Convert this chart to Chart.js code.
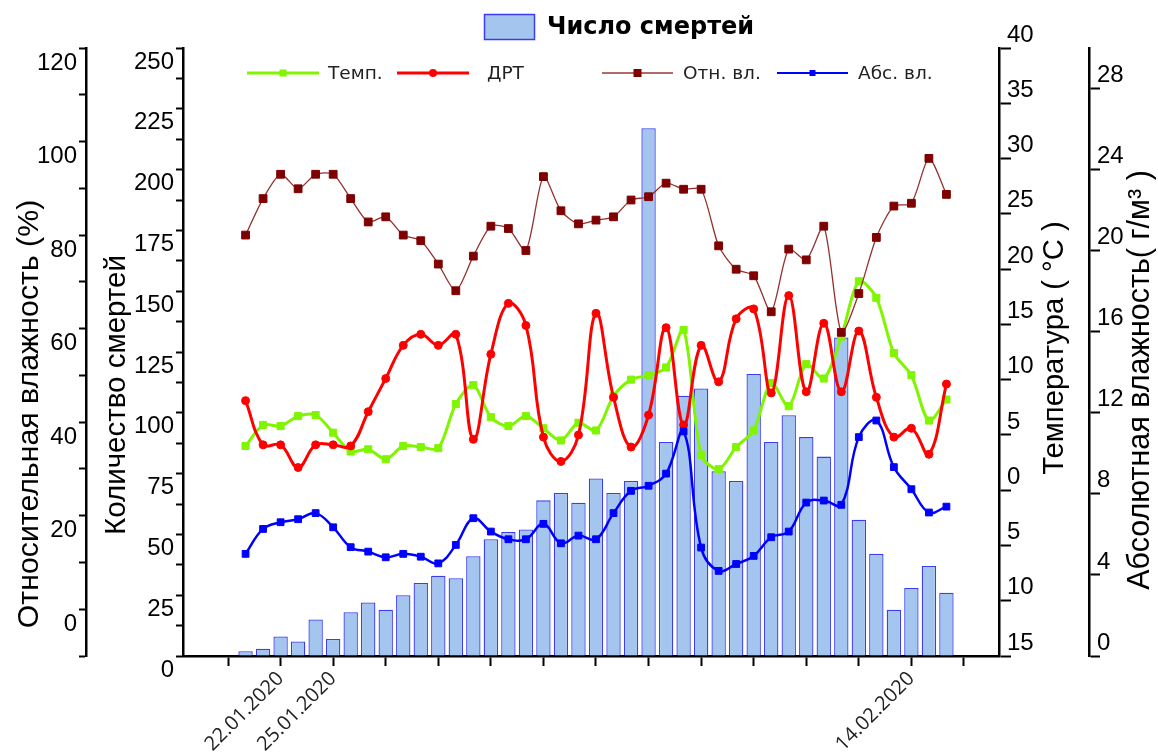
<!DOCTYPE html>
<html><head><meta charset="utf-8">
<script src="https://cdn.jsdelivr.net/npm/chart.js@4.4.1/dist/chart.umd.min.js"></script>
<style>html,body{margin:0;padding:0;background:#fff;}#wrap{width:1158px;height:753px;position:relative;}</style>
</head><body><div id="wrap"><canvas id="c" width="1158" height="753"></canvas></div>
<script>
// ---- data ----
const days = [0,1,2,3,4,5,6,7,8,9,10,11,12,13,14,15,16,17,18,19,20,21,22,23,24,25,26,27,28,29,30,31,32,33,34,35,36,37,38,39,40];
const deaths = [2,3,8,6,15,7,18,22,19,25,30,33,32,41,48,51,52,64,67,63,73,67,72,217,88,107,110,76,72,116,88,99,90,82,131,56,42,19,28,37,26];
const temp = [4.0,5.9,5.8,6.7,6.8,5.2,3.5,3.7,2.8,4.0,3.9,3.8,7.8,9.5,6.6,5.8,6.7,5.6,4.5,6.1,5.4,8.5,10.0,10.4,11.1,14.5,3.2,1.9,3.9,5.4,9.7,7.6,11.4,10.1,13.9,18.9,17.4,12.4,10.4,6.3,8.2];
const dtr = [8.1,4.1,4.1,2.05,4.1,4.1,4.0,7.1,10.1,13.1,14.1,13.1,14.1,4.6,12.3,16.9,14.9,4.8,2.6,5.0,16.0,8.4,3.9,6.8,14.7,5.9,13.1,9.8,15.5,16.4,8.8,17.6,8.9,15.1,8.9,14.4,8.4,4.8,5.6,3.25,9.6];
const relHum = [80.0,87.8,93.0,89.9,93.0,93.0,87.8,82.8,83.9,80.0,78.8,73.8,68.1,75.5,81.9,81.4,76.7,92.5,85.2,82.4,83.2,83.9,87.5,88.2,91.1,89.8,89.8,77.7,72.7,71.3,63.6,77.0,74.7,81.9,59.2,67.5,79.5,86.2,86.8,96.4,88.7];
const absHum = [5.04,6.27,6.6,6.75,7.05,6.35,5.37,5.15,4.87,5.04,4.9,4.57,5.48,6.8,6.14,5.76,5.76,6.52,5.56,5.94,5.76,7.05,8.15,8.4,9.0,11.08,5.35,4.2,4.54,4.94,5.86,6.14,7.57,7.67,7.46,10.8,11.62,9.32,8.23,7.08,7.37];

// ---- ticks ----
const xTickPos = [-1,2,5,8,11,14,17,20,23,26,29,32,35,38,41];
const xTickText = ['','22.01.2020','25.01.2020','','','','','','','','','','','14.02.2020',''];
const deathTicks = [0,12.5,25,37.5,50,62.5,75,87.5,100,112.5,125,137.5,150,162.5,175,187.5,200,212.5,225,237.5,250];
const rhTicks = [-10,0,10,20,30,40,50,60,70,80,90,100,110,120];
const tempTicks = [-15,-10,-5,0,5,10,15,20,25,30,35,40];
const absTicks = [0,4,8,12,16,20,24,28];

// ---- styles ----
const barFill = '#A4C6EE', barBorder = '#3C3CF5';
const cGreen = '#80F500', cRed = '#FF0000', cMaroon = '#7F0000', cMaroonLine = '#943030', cBlue = '#0000FF';
const tickFont = {family: '"Liberation Sans", Arial, sans-serif', size: 24};

function setTicks(arr){ return s => { s.ticks = arr.map(v => ({value: v})); }; }
function yAxis(pos, weight, width, min, max, ticksArr, cb, labelOffset, tickLen, pad){
  return {
    type: 'linear', position: pos, weight: weight, min: min, max: max,
    afterFit: s => { s.width = width; },
    afterBuildTicks: setTicks(ticksArr),
    ticks: {autoSkip: false, font: tickFont, color: '#000', padding: pad, labelOffset: labelOffset, callback: cb},
    grid: {drawOnChartArea: false, drawTicks: true, tickLength: tickLen, tickWidth: 2, tickColor: '#000'},
    border: {display: true, color: '#000', width: 2.5}
  };
}

const overlay = {
  id: 'overlay',
  afterDraw(chart){
    const ctx = chart.ctx;
    const ds = chart.data.datasets;
    ctx.save();
    // top legend (bars)
    ctx.fillStyle = barFill; ctx.fillRect(484, 14, 51, 26);
    ctx.strokeStyle = barBorder; ctx.lineWidth = 1.5; ctx.strokeRect(484.5, 14.5, 50, 25);
    ctx.fillStyle = '#000'; ctx.textAlign = 'left'; ctx.textBaseline = 'middle';
    ctx.font = 'bold 24px "DejaVu Sans", sans-serif';
    ctx.fillText(ds[0].label, 547, 28);
    // line legend row
    const items = [
      {d: ds[1], x0: 247, x1: 319, tx: 328, lc: cGreen, lw: 3, mk: 'rect', ms: 7},
      {d: ds[2], x0: 397, x1: 469, tx: 487, lc: cRed, lw: 3, mk: 'circle', ms: 8},
      {d: ds[3], x0: 602, x1: 673, tx: 683, lc: '#B06A6A', lw: 2, mk: 'rect', ms: 8},
      {d: ds[4], x0: 777, x1: 848, tx: 858, lc: cBlue, lw: 2, mk: 'rect', ms: 6}
    ];
    const ly = 73;
    ctx.font = '18.5px "DejaVu Sans", sans-serif';
    items.forEach(it => {
      ctx.strokeStyle = it.lc; ctx.lineWidth = it.lw;
      ctx.beginPath(); ctx.moveTo(it.x0, ly); ctx.lineTo(it.x1, ly); ctx.stroke();
      const mx = (it.x0 + it.x1) / 2;
      ctx.fillStyle = it.d.pointBackgroundColor;
      if (it.mk === 'circle') { ctx.beginPath(); ctx.arc(mx, ly, it.ms / 2, 0, Math.PI * 2); ctx.fill(); }
      else ctx.fillRect(mx - it.ms / 2, ly - it.ms / 2, it.ms, it.ms);
      ctx.fillStyle = '#222';
      ctx.fillText(it.d.label, it.tx, ly + 1);
    });
    // axis titles
    const titles = [
      {t: 'Относительная влажность (%)', x: chart.scales.yRH.left + 30, y: 414, len: 428},
      {t: 'Количество смертей', x: chart.scales.yD.left + 31, y: 395, len: 280},
      {t: 'Температура ( °C )', x: chart.scales.yT.left + 56, y: 348, len: 253},
      {t: 'Абсолютная влажность( г/м³ )', x: chart.scales.yA.left + 52, y: 380, len: 420}
    ];
    const fam = '"Liberation Sans", Arial, sans-serif';
    titles.forEach(o => {
      ctx.font = '100px ' + fam;
      const w = ctx.measureText(o.t).width;
      const fs = 100 * o.len / w;
      ctx.font = fs.toFixed(1) + 'px ' + fam;
      ctx.save();
      ctx.translate(o.x, o.y); ctx.rotate(-Math.PI / 2);
      ctx.fillStyle = '#000'; ctx.textAlign = 'center'; ctx.textBaseline = 'middle';
      ctx.fillText(o.t, 0, 0);
      ctx.restore();
    });
    ctx.restore();
  }
};

new Chart(document.getElementById('c'), {
  type: 'bar',
  data: {
    labels: days,
    datasets: [
      {type: 'bar', label: 'Число смертей', data: deaths, yAxisID: 'yD', backgroundColor: barFill, borderColor: barBorder, borderWidth: 1.3, barPercentage: 1, categoryPercentage: 0.82, order: 5},
      {type: 'line', label: 'Темп.', data: temp, yAxisID: 'yT', borderColor: cGreen, backgroundColor: cGreen, pointBackgroundColor: cGreen, pointBorderColor: cGreen, borderWidth: 3, pointStyle: 'rect', pointRadius: 5, pointBorderWidth: 1, tension: 0.3, order: 4},
      {type: 'line', label: 'ДРТ', data: dtr, yAxisID: 'yT', borderColor: cRed, backgroundColor: cRed, pointBackgroundColor: cRed, pointBorderColor: cRed, borderWidth: 3, pointStyle: 'circle', pointRadius: 4, pointBorderWidth: 1, tension: 0.4, order: 3},
      {type: 'line', label: 'Отн. вл.', data: relHum, yAxisID: 'yRH', borderColor: cMaroonLine, backgroundColor: cMaroon, pointBackgroundColor: cMaroon, pointBorderColor: cMaroon, borderWidth: 1.3, pointStyle: 'rect', pointRadius: 5.5, pointBorderWidth: 1, tension: 0.25, order: 2},
      {type: 'line', label: 'Абс. вл.', data: absHum, yAxisID: 'yA', borderColor: cBlue, backgroundColor: cBlue, pointBackgroundColor: cBlue, pointBorderColor: cBlue, borderWidth: 2.5, pointStyle: 'rect', pointRadius: 4.8, pointBorderWidth: 1, tension: 0.4, order: 1}
    ]
  },
  options: {
    responsive: false, animation: false, events: [],
    layout: {padding: {top: 48, left: 0, right: 0, bottom: 0}},
    plugins: {legend: {display: false}, tooltip: {enabled: false}, title: {display: false}},
    scales: {
      x: {
        type: 'linear', position: 'bottom', min: -3.57, max: 43, offset: false,
        afterFit: s => { s.height = 97; },
        afterBuildTicks: setTicks(xTickPos),
        ticks: {autoSkip: false, minRotation: 45, maxRotation: 45, padding: 1, color: '#222',
          font: {family: '"Open Sans", sans-serif', size: 20},
          callback: (v, i) => xTickText[i]},
        grid: {offset: false, drawOnChartArea: false, drawTicks: true, tickLength: 10, tickWidth: 2, tickColor: '#000'},
        border: {display: true, color: '#000', width: 2.5}
      },
      yD: yAxis('left', 0, 97, 0, 250, deathTicks, v => (v % 25 === 0 ? String(v) : ''), 14, 7, 2),
      yRH: yAxis('left', 1, 86, -10, 120, rhTicks, v => (v % 20 === 0 && v >= 0 ? String(v) : ''), 15, 7, 2),
      yT: yAxis('right', 0, 90, -15, 40, tempTicks, v => String(Math.abs(v)), -13, 12, -4),
      yA: yAxis('right', 1, 69, 0, 30, absTicks, v => String(v), -13, 11, -3)
    }
  },
  plugins: [overlay]
});
</script></body></html>
